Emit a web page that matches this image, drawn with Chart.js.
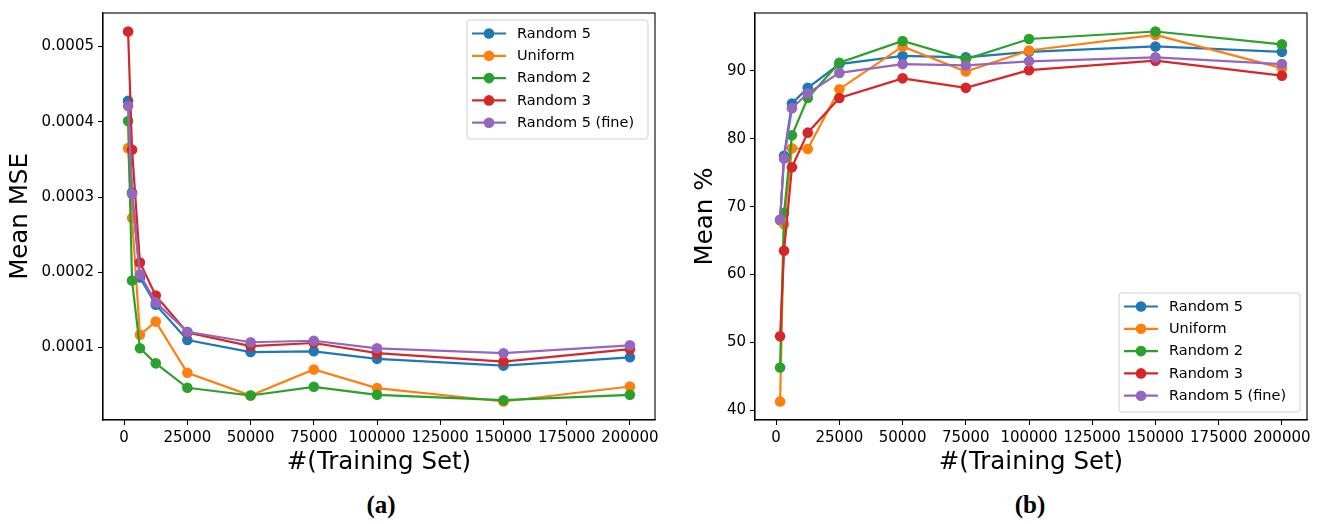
<!DOCTYPE html>
<html>
<head>
<meta charset="utf-8">
<script src="https://cdn.jsdelivr.net/npm/chart.js@4.4.1/dist/chart.umd.min.js"></script>
<style>
  html, body { margin: 0; padding: 0; background: #fff; }
  body { width: 1322px; height: 524px; position: relative; overflow: hidden; }
  .panel { position: absolute; top: 0; height: 480px; }
  #wrapA { left: 0; width: 670px; }
  #wrapB { left: 670px; width: 652px; }
  .cap {
    position: absolute; top: 492px; line-height: 25px;
    font-family: "Liberation Serif", "DejaVu Serif", serif;
    font-weight: bold; font-size: 25px; color: #000;
    transform: translateX(-50%);
  }
</style>
</head>
<body>
<div class="panel" id="wrapA"><canvas id="chartA" width="670" height="480"></canvas></div>
<div class="panel" id="wrapB"><canvas id="chartB" width="652" height="480"></canvas></div>
<div class="cap" style="left:381px">(a)</div>
<div class="cap" style="left:1030px">(b)</div>
<script>
// training set sizes (x axis)
const trainSizes = [1563, 3125, 6250, 12500, 25000, 50000, 75000, 100000, 150000, 200000];
const seriesNames = ['Random 5', 'Uniform', 'Random 2', 'Random 3', 'Random 5 (fine)'];
const seriesColors = ['#1f77b4', '#ff7f0e', '#2ca02c', '#d62728', '#9467bd'];

// (a) mean MSE
const mseRandom5  = [0.000428, 0.000306, 0.000193, 0.000157, 0.000110, 0.0000940, 0.0000950, 0.0000850, 0.0000760, 0.0000870];
const mseUniform  = [0.000365, 0.000272, 0.000117, 0.0001345, 0.0000665, 0.0000363, 0.0000708, 0.0000460, 0.0000283, 0.0000482];
const mseRandom2  = [0.000401, 0.000189, 0.0000990, 0.0000790, 0.0000465, 0.0000363, 0.0000478, 0.0000372, 0.0000300, 0.0000372];
const mseRandom3  = [0.000520, 0.000363, 0.000213, 0.000169, 0.000120, 0.000102, 0.000106, 0.0000925, 0.0000814, 0.0000978];
const mseFine     = [0.000421, 0.000304, 0.000197, 0.000160, 0.000121, 0.000107, 0.000109, 0.0000990, 0.0000925, 0.000103];

// (b) mean %
const pctRandom5  = [68.0, 77.5, 85.2, 87.5, 91.0, 92.2, 92.0, 92.8, 93.6, 92.8];
const pctUniform  = [41.3, 67.4, 78.6, 78.5, 87.3, 93.6, 89.9, 93.0, 95.3, 90.4];
const pctRandom2  = [46.3, 69.1, 80.5, 86.0, 91.2, 94.4, 91.7, 94.7, 95.8, 93.9];
const pctRandom3  = [50.9, 63.5, 75.8, 80.9, 86.0, 88.9, 87.5, 90.1, 91.5, 89.3];
const pctFine     = [68.1, 77.1, 84.5, 86.7, 89.7, 91.0, 90.8, 91.4, 92.0, 91.0];

const xTicks = [0, 25000, 50000, 75000, 100000, 125000, 150000, 175000, 200000];
const mseTicks = [0.0001, 0.0002, 0.0003, 0.0004, 0.0005];
const pctTicks = [40, 50, 60, 70, 80, 90];

const FONT = 'DejaVu Sans';

// matplotlib-like frame + boxed legend drawn over the lines
const boxLegend = {
  id: 'boxLegend',
  afterDatasetsDraw(chart, args, opts) {
    const { ctx, chartArea: a } = chart;
    ctx.save();
    ctx.strokeStyle = '#000';
    ctx.lineWidth = 1.1;
    ctx.strokeRect(a.left, a.top, a.right - a.left, a.bottom - a.top);

    const w = 181, h = 119;
    const x = a.right - 7 - w;
    const y = opts.where === 'bottom' ? a.bottom - 8 - h : a.top + 7;
    ctx.beginPath();
    ctx.roundRect(x, y, w, h, 3);
    ctx.fillStyle = 'rgba(255,255,255,0.8)';
    ctx.fill();
    ctx.strokeStyle = 'rgba(204,204,204,0.9)';
    ctx.lineWidth = 1;
    ctx.stroke();

    ctx.font = '14.5px "' + FONT + '"';
    ctx.textBaseline = 'middle';
    chart.data.datasets.forEach((ds, i) => {
      const cy = y + 13.5 + i * 22.3;
      ctx.strokeStyle = ds.borderColor;
      ctx.lineWidth = 2.2;
      ctx.beginPath();
      ctx.moveTo(x + 5, cy);
      ctx.lineTo(x + 39, cy);
      ctx.stroke();
      ctx.fillStyle = ds.borderColor;
      ctx.beginPath();
      ctx.arc(x + 22, cy, 5.3, 0, Math.PI * 2);
      ctx.fill();
      ctx.fillStyle = '#000';
      ctx.fillText(ds.label, x + 50, cy + 0.5);
    });
    ctx.restore();
  }
};

function makeDatasets(seriesList) {
  return seriesList.map((vals, i) => ({
    label: seriesNames[i],
    data: vals.map((v, j) => ({ x: trainSizes[j], y: v })),
    borderColor: seriesColors[i],
    backgroundColor: seriesColors[i],
    borderWidth: 2.2,
    pointRadius: 5.3,
    pointBorderWidth: 0,
    pointHoverRadius: 5.3,
    tension: 0,
    order: seriesList.length - i
  }));
}

function makeChart(id, seriesList, cfg) {
  const tickFont = { family: FONT, size: 15 };
  const titleFont = { family: FONT, size: 24.5 };
  return new Chart(document.getElementById(id), {
    type: 'line',
    data: { datasets: makeDatasets(seriesList) },
    options: {
      responsive: false,
      animation: false,
      events: [],
      layout: { padding: { top: 10, right: cfg.padRight, left: 0, bottom: 0 } },
      plugins: {
        legend: { display: false },
        tooltip: { enabled: false },
        boxLegend: { where: cfg.legendAt }
      },
      scales: {
        x: {
          type: 'linear',
          min: -8359, max: 209922,
          afterBuildTicks: axis => { axis.ticks = xTicks.map(v => ({ value: v })); },
          afterFit: axis => { axis.height = 60; },
          grid: { drawOnChartArea: false, drawTicks: true, tickLength: 5, color: '#000', tickWidth: 1.1 },
          border: { color: '#000', width: 1.1 },
          ticks: { color: '#000', font: tickFont, padding: 4, maxRotation: 0, autoSkip: false, callback: v => String(v) },
          title: { display: true, text: '#(Training Set)', color: '#000', font: titleFont, padding: { top: 0, bottom: 3 } }
        },
        y: {
          type: 'linear',
          min: cfg.yMin, max: cfg.yMax,
          afterBuildTicks: axis => { axis.ticks = cfg.yTicks.map(v => ({ value: v })); },
          afterFit: axis => { axis.width = cfg.yWidth; },
          grid: { drawOnChartArea: false, drawTicks: true, tickLength: 5, color: '#000', tickWidth: 1.1 },
          border: { color: '#000', width: 1.1 },
          ticks: { color: '#000', font: tickFont, padding: 4, autoSkip: false, callback: cfg.yFmt },
          title: { display: true, text: cfg.yTitle, color: '#000', font: titleFont, padding: { top: cfg.titlePad, bottom: 0 } }
        }
      }
    },
    plugins: [boxLegend]
  });
}

makeChart('chartA', [mseRandom5, mseUniform, mseRandom2, mseRandom3, mseFine], {
  yMin: 0.0000037, yMax: 0.0005446, yTicks: mseTicks,
  yFmt: v => v.toFixed(4), yTitle: 'Mean MSE',
  yWidth: 103, titlePad: 6, padRight: 15, legendAt: 'top'
});

makeChart('chartB', [pctRandom5, pctUniform, pctRandom2, pctRandom3, pctFine], {
  yMin: 38.575, yMax: 98.525, yTicks: pctTicks,
  yFmt: v => String(v), yTitle: 'Mean %',
  yWidth: 85, titlePad: 21, padRight: 15, legendAt: 'bottom'
});
</script>
</body>
</html>
